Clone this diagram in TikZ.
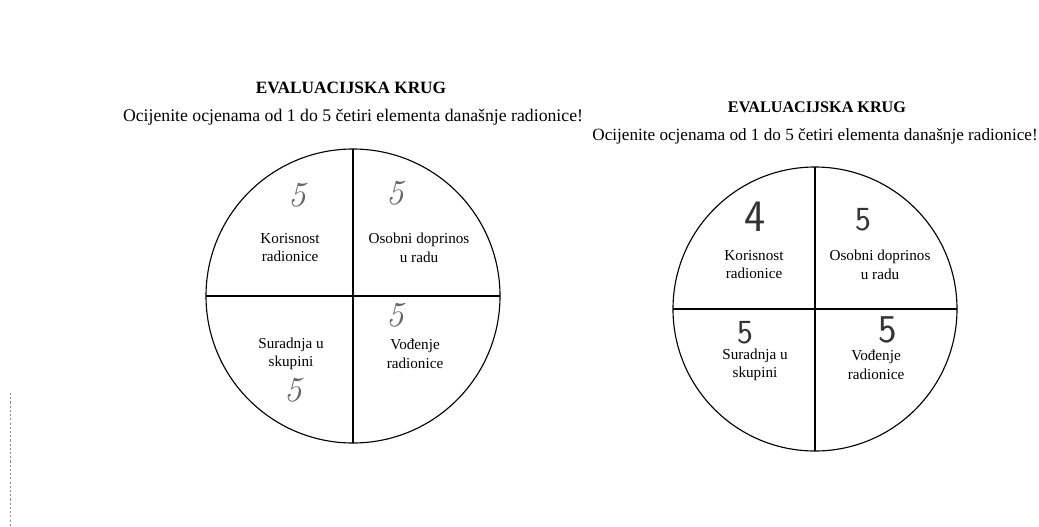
\documentclass[tikz,border=0pt]{standalone}
\usepackage{amsmath}
\usepackage{fontspec}
\setmainfont{Liberation Serif}
\usepackage{tikz}
\usetikzlibrary{positioning}

\begin{document}
\begin{tikzpicture}[
	krug/.style={line width=0.8pt},
	naslov/.style={font=\bfseries\fontsize{11.5}{13}\selectfont,anchor=center},
	upute/.style={font=\fontsize{12.3}{14}\selectfont,anchor=center},
	lbl/.style={align=center,font=\fontsize{10.8}{13.2}\selectfont,anchor=center},
	ocj/.style={font=\fontspec{Latin Modern Roman}\itshape\fontsize{25}{25}\selectfont,text=black!60,anchor=center},
	ocjb/.style={font=\sffamily\fontsize{24}{24}\selectfont,text=black!80,anchor=center}
	]
	\useasboundingbox (0,0) rectangle (25.975,-13.15);
	%% lijevi krug
	\coordinate (c1) at (8.825,-7.4);
	\coordinate[above=3.675 of c1] (c1n); % gore
	\coordinate[below=3.675 of c1] (c1s); % dolje
	\coordinate[left=3.675 of c1] (c1w);
	\coordinate[right=3.675 of c1] (c1e);
	\draw[krug] (c1) circle[radius=3.675];
	\draw[krug] (c1n) -- (c1s) (c1w) -- (c1e);
	\node (t1) [above right=5.2 and -0.05 of c1,naslov,font=\bfseries\fontsize{12.3}{13}\selectfont] {EVALUACIJSKA KRUG};
	\node (u1) [above right=4.46 and 0 of c1,upute,font=\fontsize{12.6}{14}\selectfont] {Ocijenite ocjenama od 1 do 5 četiri elementa današnje radionice!};
	\node (k1) [above right=1.21 and -1.575 of c1,lbl] {Korisnost\\radionice};
	\node (o1) [above right=1.21 and 1.65 of c1,lbl] {Osobni doprinos\\u radu};
	\node (s1) [above right=-1.45 and -1.55 of c1,lbl] {Suradnja u\\skupini};
	\node (v1) [above right=-1.45 and 1.55 of c1,lbl] {Vođenje\\radionice};
	% ocjene
	\node (k1o) [above right=2.525 and -1.4 of c1,ocj] {5};
	\node (o1o) [above right=2.575 and 1.05 of c1,ocj] {5};
	\node (v1o) [above right=-0.475 and 1.05 of c1,ocj] {5};
	\node (s1o) [above right=-2.35 and -1.5 of c1,ocj] {5};
	%% desni krug
	\coordinate (c2) at (20.375,-7.725);
	\coordinate[above=3.55 of c2] (c2n);
	\coordinate[below=3.55 of c2] (c2s);
	\coordinate[left=3.55 of c2] (c2w);
	\coordinate[right=3.55 of c2] (c2e);
	\draw[krug] (c2) circle[radius=3.55];
	\draw[krug] (c2n) -- (c2s) (c2w) -- (c2e);
	\node (t2) [above right=5.05 and 0.05 of c2,naslov] {EVALUACIJSKA KRUG};
	\node (u2) [above right=4.325 and 0 of c2,upute,font=\fontsize{12.2}{14}\selectfont] {Ocijenite ocjenama od 1 do 5 četiri elementa današnje radionice!};
	\node (k2) [above right=1.11 and -1.525 of c2,lbl] {Korisnost\\radionice};
	\node (o2) [above right=1.11 and 1.625 of c2,lbl] {Osobni doprinos\\u radu};
	\node (s2) [above right=-1.4 and -1.5 of c2,lbl] {Suradnja u\\skupini};
	\node (v2) [above right=-1.4 and 1.525 of c2,lbl] {Vođenje\\radionice};
	% ocjene
	\node (k2o) [above right=2.3 and -1.5 of c2,ocjb,font=\sffamily\fontsize{32}{32}\selectfont] {4};
	\node (o2o) [above right=2.225 and 1.2 of c2,ocjb] {5};
	\node (s2o) [above right=-0.6 and -1.75 of c2,ocjb] {5};
	\node (v2o) [above right=-0.525 and 1.825 of c2,ocjb,font=\sffamily\fontsize{28}{28}\selectfont] {5};
	% rub skena
	\draw[black!45,line width=0.4pt,dash pattern=on 1.5pt off 1.5pt] (0.25,-9.825) -- (0.25,-13.15);
\end{tikzpicture}
\end{document}
